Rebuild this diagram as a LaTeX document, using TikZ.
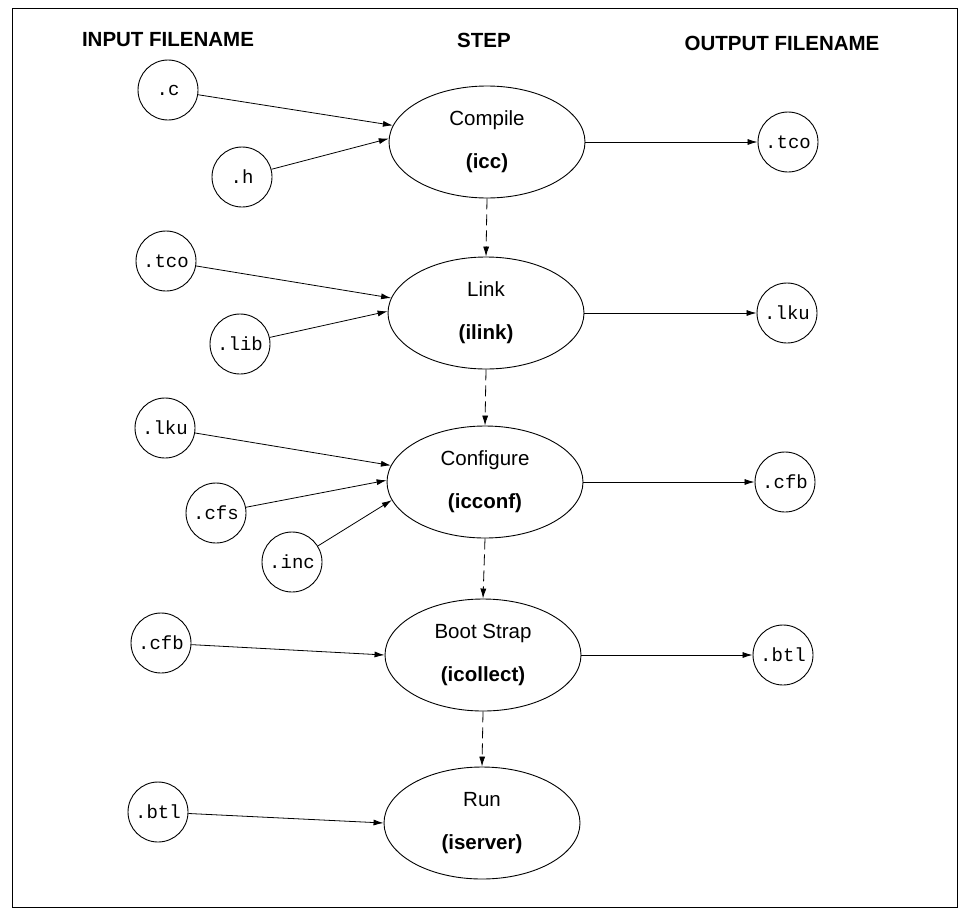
\documentclass[tikz,border=0pt]{standalone}
\usepackage{fontspec}
\setmainfont{Liberation Sans}
\setmonofont{Liberation Mono}
\usetikzlibrary{arrows.meta,shapes.geometric}
\begin{document}
\begin{tikzpicture}[x=1pt,y=-1pt,
  file/.style={circle,draw,line width=0.9pt,minimum size=60pt,inner sep=0pt,font=\fontsize{19}{19}\selectfont\ttfamily},
  stepbox/.style={ellipse,draw,line width=0.9pt,minimum width=196pt,minimum height=112pt,inner sep=0pt,align=center,font=\fontsize{20.5}{43}\selectfont},
  head/.style={font=\fontsize{20.5}{24}\selectfont\bfseries},
  flow/.style={-{Latex[length=10pt,width=6pt]},line width=0.8pt},
  seq/.style={flow,dash pattern=on 11pt off 5pt}]
\useasboundingbox (0,0) rectangle (960,910);
\draw[line width=1pt] (12,8) rectangle (957,907);

% headers
\node[head] (hin)  at (168,40) {INPUT FILENAME};
\node[head] (hstep) at (484,40) {STEP};
\node[head] (hout) at (782,43) {OUTPUT FILENAME};

% steps
\node[stepbox] (compile) at (487,142) {Compile\\\textbf{(icc)}};
\node[stepbox] (link)    at (486,313) {Link\\\textbf{(ilink)}};
\node[stepbox] (config)  at (485,482) {Configure\\\textbf{(icconf)}};
\node[stepbox] (boot)    at (483,655) {Boot Strap\\\textbf{(icollect)}};
\node[stepbox] (run)     at (482,823) {Run\\\textbf{(iserver)}};

% inputs
\node[file] (c)    at (168,90)  {.c};
\node[file] (h)    at (242,177) {.h};
\node[file] (tcoi) at (166,261) {.tco};
\node[file] (lib)  at (240,344) {.lib};
\node[file] (lkui) at (165,428) {.lku};
\node[file] (cfs)  at (216,513) {.cfs};
\node[file] (inc)  at (292,562) {.inc};
\node[file] (cfbi) at (161,643) {.cfb};
\node[file] (btli) at (158,812) {.btl};

% outputs
\node[file] (tcoo) at (788,142) {.tco};
\node[file] (lkuo) at (787,313) {.lku};
\node[file] (cfbo) at (785,482) {.cfb};
\node[file] (btlo) at (783,655) {.btl};

% input arrows
\draw[flow] (c) -- (compile.170);
\draw[flow] (h) -- (compile.178);
\draw[flow] (tcoi) -- (link.171);
\draw[flow] (lib) -- (link.179);
\draw[flow] (lkui) -- (config.170);
\draw[flow] (cfs) -- (config.179);
\draw[flow] (inc) -- (config.191);
\draw[flow] (cfbi) -- (boot.180);
\draw[flow] (btli) -- (run.180);

% output arrows
\draw[flow] (compile.east) -- (tcoo.west);
\draw[flow] (link.east) -- (lkuo.west);
\draw[flow] (config.east) -- (cfbo.west);
\draw[flow] (boot.east) -- (btlo.west);

% sequence arrows
\draw[seq] (compile.south) -- (link.north);
\draw[seq] (link.south) -- (config.north);
\draw[seq] (config.south) -- (boot.north);
\draw[seq] (boot.south) -- (run.north);
\end{tikzpicture}
\end{document}
